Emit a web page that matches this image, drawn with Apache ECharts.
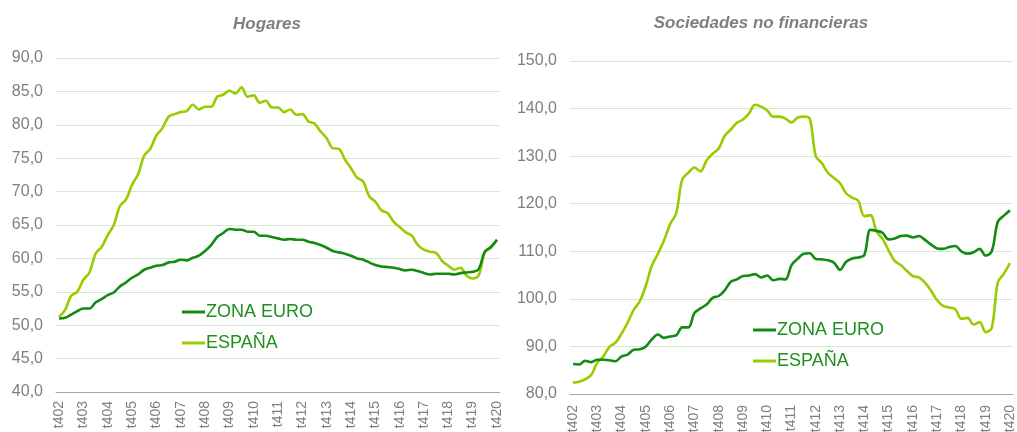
<!DOCTYPE html>
<html>
<head>
<meta charset="utf-8">
<script src="https://cdn.jsdelivr.net/npm/echarts@6/dist/echarts.min.js"></script>
<style>
  html, body { margin: 0; padding: 0; background: #fff; }
  #chart { width: 1017px; height: 432px; }
</style>
</head>
<body>
<div id="chart"></div>
<script>
// quarterly, 4Q 2002 .. 4Q 2020
const categories = []
for (let y = 2002; y <= 2020; y++) {
  for (let q = 1; q <= 4; q++) {
    if (y === 2002 && q < 4) continue
    categories.push('t' + q + String(y).slice(2))
  }
}

const hogaresZona = [
  51.0, 51.1, 51.6, 52.1, 52.5, 52.5, 53.4, 53.9, 54.5, 54.9,
  55.8, 56.4, 57.1, 57.6, 58.3, 58.6, 58.9, 59.0, 59.4, 59.5,
  59.8, 59.7, 60.1, 60.4, 61.1, 62.0, 63.2, 63.8, 64.4, 64.3,
  64.3, 64.0, 64.0, 63.4, 63.4, 63.2, 63.0, 62.8, 62.9, 62.8,
  62.8, 62.5, 62.3, 62.0, 61.6, 61.1, 60.9, 60.7, 60.4, 60.0,
  59.8, 59.4, 59.0, 58.8, 58.7, 58.6, 58.4, 58.2, 58.3, 58.1,
  57.8, 57.6, 57.7, 57.7, 57.7, 57.6, 57.8, 57.9, 58.0, 58.4,
  61.0, 61.7, 62.8
]
const hogaresEsp = [
  51.2, 52.3, 54.4, 55.0, 56.8, 57.9, 60.7, 61.7, 63.5, 65.0,
  67.8, 68.8, 71.0, 72.6, 75.4, 76.4, 78.4, 79.5, 81.2, 81.6,
  81.9, 82.1, 83.0, 82.3, 82.7, 82.7, 84.2, 84.5, 85.1, 84.7,
  85.6, 84.2, 84.4, 83.3, 83.6, 82.6, 82.6, 81.9, 82.3, 81.5,
  81.6, 80.5, 80.2, 79.0, 78.0, 76.5, 76.4, 74.8, 73.5, 72.1,
  71.5, 69.3, 68.5, 67.2, 66.8, 65.5, 64.7, 63.9, 63.4, 62.0,
  61.3, 61.0, 60.8, 59.6, 58.9, 58.3, 58.6, 57.4, 57.0, 57.5,
  60.9, 61.6, 62.8
]
const sociedadesZona = [
  86.3, 86.2, 87.0, 86.7, 87.2, 87.2, 87.1, 86.9, 87.9, 88.3,
  89.3, 89.4, 90.0, 91.5, 92.5, 91.8, 92.1, 92.3, 94.0, 94.0,
  97.0, 98.0, 98.8, 100.2, 100.6, 101.8, 103.6, 104.1, 104.8, 104.9,
  105.2, 104.5, 104.9, 103.9, 104.2, 104.1, 107.1, 108.4, 109.5, 109.6,
  108.4, 108.3, 108.1, 107.6, 106.1, 107.8, 108.5, 108.7, 109.2, 114.5,
  114.3, 113.9, 112.5, 112.7, 113.2, 113.3, 112.9, 113.2, 112.4, 111.4,
  110.6, 110.5, 110.9, 111.1, 110.0, 109.5, 109.8, 110.5, 109.1, 110.0,
  116.2, 117.5, 118.6
]
const sociedadesEsp = [
  82.4, 82.6, 83.1, 84.0, 86.6, 87.9, 89.9, 90.8, 92.7, 95.0,
  97.7, 99.5, 102.8, 107.0, 109.5, 112.3, 115.7, 118.0, 125.1, 126.5,
  127.6, 126.8, 129.1, 130.5, 131.6, 134.3, 135.6, 137.0, 137.7, 139.0,
  140.8, 140.4, 139.6, 138.3, 138.3, 137.9, 137.1, 138.1, 138.3, 137.9,
  130.0, 128.5, 126.5, 125.4, 124.3, 122.2, 121.3, 120.6, 117.4, 117.6,
  114.2, 112.6, 110.2, 108.0, 107.1, 105.9, 104.8, 104.5, 103.4, 101.7,
  99.7, 98.5, 98.2, 97.8, 95.8, 96.0, 94.6, 95.1, 93.0, 93.9,
  103.5, 105.3, 107.5
]

const FONT = 'Liberation Sans, Arial, sans-serif'
const GRAY = '#7f7f7f'
const DARK = '#138a13'
const LIGHT = '#99cc00'

const xAxisFor = (gi) => ({
  type: 'category',
  gridIndex: gi,
  data: categories,
  boundaryGap: true,
  axisLine: { lineStyle: { color: '#a6a6a6', width: 1 } },
  axisTick: { show: false },
  axisLabel: {
    interval: 3,
    rotate: 90,
    margin: gi === 0 ? 9 : 11,
    color: GRAY,
    fontSize: 14,
    fontFamily: FONT
  }
})

const yAxisFor = (gi, min, max, step) => ({
  type: 'value',
  gridIndex: gi,
  min: min,
  max: max,
  interval: step,
  axisLine: { show: false },
  axisTick: { show: false },
  splitLine: { lineStyle: { color: '#d5e8d4', width: 1 } },
  axisLabel: {
    margin: 13,
    color: GRAY,
    fontSize: 16,
    fontFamily: FONT,
    formatter: v => v.toFixed(1).replace('.', ',')
  }
})

const lineSeries = (name, data, color, gi) => ({
  name: name,
  type: 'line',
  xAxisIndex: gi,
  yAxisIndex: gi,
  data: data,
  smooth: 0.35,
  symbol: 'none',
  lineStyle: { color: color, width: 2.6 },
  itemStyle: { color: color },
  z: name === 'ZONA EURO' ? 3 : 2
})

const legendFor = (left, top) => ({
  orient: 'vertical',
  left: left,
  top: top,
  padding: 0,
  data: ['ZONA EURO', 'ESPAÑA'],
  icon: 'rect',
  itemWidth: 23,
  itemHeight: 3,
  itemGap: 13,
  textStyle: { color: '#1f8f1f', fontSize: 18, fontFamily: FONT, padding: [0, 0, 0, -4] }
})

const titleStyle = { color: GRAY, fontSize: 17, fontStyle: 'italic', fontWeight: 'bold', fontFamily: FONT }

const option = {
  animation: false,
  title: [
    { text: 'Hogares', left: 262, top: 11, textAlign: 'center', textStyle: titleStyle },
    { text: 'Sociedades no financieras', left: 756, top: 10, textAlign: 'center', textStyle: titleStyle }
  ],
  legend: [legendFor(182, 303), legendFor(753, 321)],
  grid: [
    { left: 56, right: 517, top: 58, bottom: 40, outerBoundsMode: 'none' },
    { left: 570, right: 4, top: 61, bottom: 38, outerBoundsMode: 'none' }
  ],
  xAxis: [xAxisFor(0), xAxisFor(1)],
  yAxis: [yAxisFor(0, 40, 90, 5), yAxisFor(1, 80, 150, 10)],
  series: [
    lineSeries('ZONA EURO', hogaresZona, DARK, 0),
    lineSeries('ESPAÑA', hogaresEsp, LIGHT, 0),
    lineSeries('ZONA EURO', sociedadesZona, DARK, 1),
    lineSeries('ESPAÑA', sociedadesEsp, LIGHT, 1)
  ]
}

const chart = echarts.init(document.getElementById('chart'))
chart.setOption(option)
</script>
</body>
</html>
